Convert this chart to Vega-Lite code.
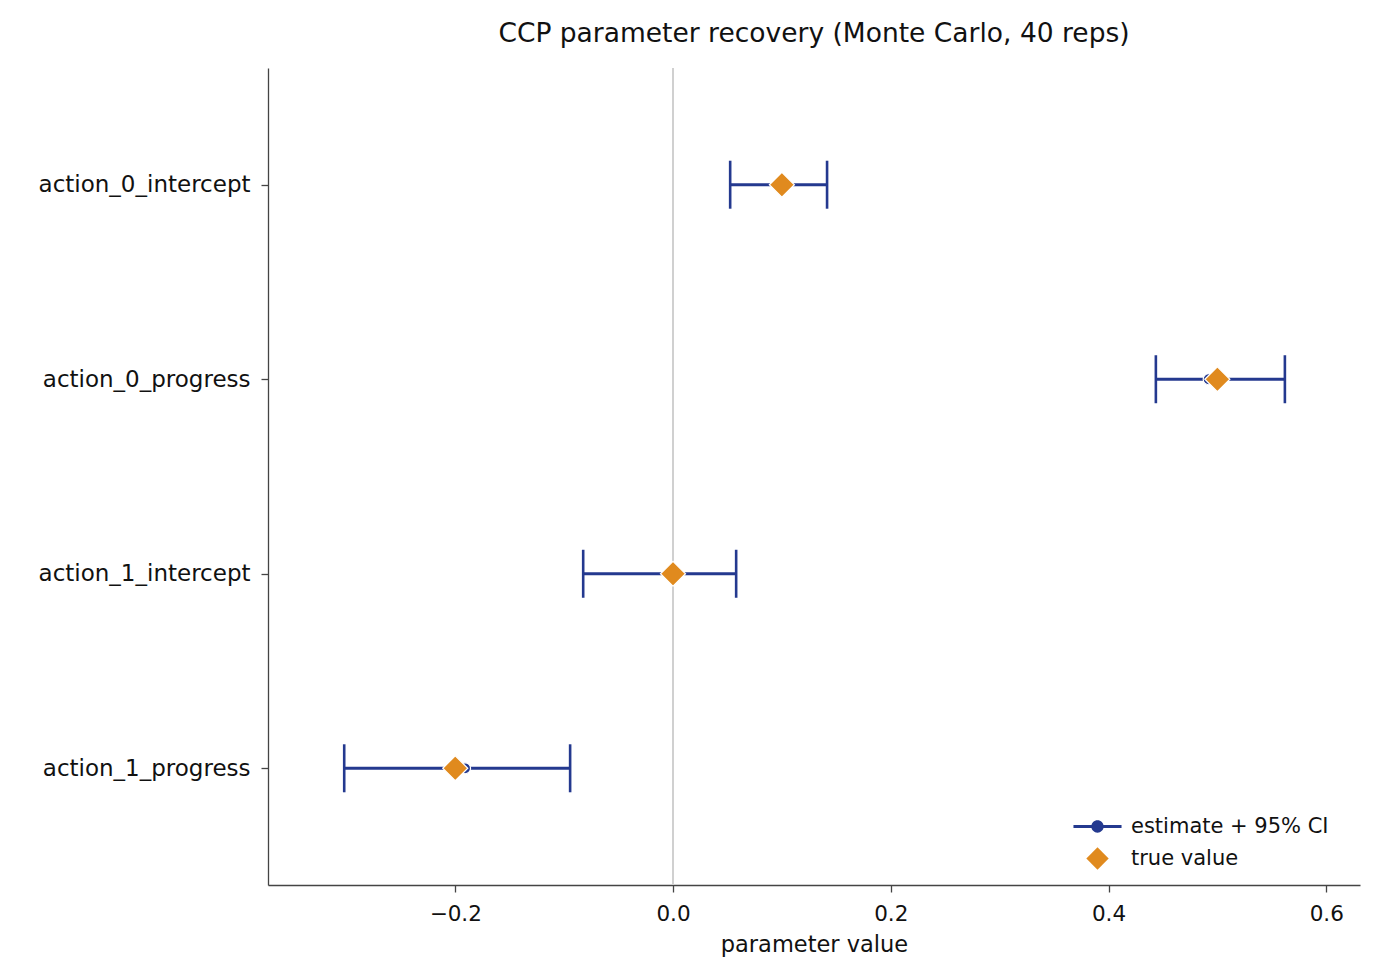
{
  "$schema": "https://vega.github.io/schema/vega-lite/v6.json",
  "width": 1092,
  "height": 817,
  "autosize": {"type": "none"},
  "padding": {"left": 268, "top": 68, "right": 20, "bottom": 94},
  "background": "white",
  "config": {
    "view": {"stroke": null},
    "font": "DejaVu Sans",
    "axis": {"grid": false, "domainColor": "#444444", "tickColor": "#444444", "labelColor": "#111111", "titleColor": "#111111", "titleFontWeight": "normal", "domainWidth": 1.3, "tickWidth": 1.3, "tickSize": 7}
  },
  "title": {"text": "CCP parameter recovery (Monte Carlo, 40 reps)", "fontSize": 26.5, "fontWeight": "normal", "color": "#111111", "offset": 20, "anchor": "middle"},
  "data": {
    "values": [
      {"param": "action_0_intercept", "est": 0.097, "lo": 0.0525, "hi": 0.1415, "truth": 0.1},
      {"param": "action_0_progress", "est": 0.492, "lo": 0.4435, "hi": 0.562, "truth": 0.5},
      {"param": "action_1_intercept", "est": -0.003, "lo": -0.0825, "hi": 0.058, "truth": 0.0},
      {"param": "action_1_progress", "est": -0.191, "lo": -0.302, "hi": -0.0945, "truth": -0.2}
    ]
  },
  "encoding": {
    "y": {
      "field": "param", "type": "nominal",
      "scale": {"type": "point", "padding": 0.6},
      "sort": ["action_0_intercept", "action_0_progress", "action_1_intercept", "action_1_progress"],
      "axis": {"title": null, "labelFontSize": 23, "labelPadding": 11, "labelLimit": 0}
    }
  },
  "layer": [
    {
      "mark": {"type": "rule", "color": "#d0d0d0", "strokeWidth": 1.8},
      "encoding": {"x": {"datum": 0}, "y": null}
    },
    {
      "mark": {"type": "rule", "color": "#24398f", "strokeWidth": 3},
      "encoding": {
        "x": {
          "field": "lo", "type": "quantitative",
          "scale": {"domain": [-0.372, 0.631], "nice": false, "zero": false},
          "axis": {"title": "parameter value", "titleFontSize": 22.5, "titlePadding": 9, "labelFontSize": 21.5, "labelPadding": 11, "values": [-0.2, 0, 0.2, 0.4, 0.6], "format": ".1f"}
        },
        "x2": {"field": "hi"}
      }
    },
    {
      "mark": {"type": "tick", "color": "#24398f", "thickness": 2.6, "size": 48, "orient": "vertical", "opacity": 1},
      "encoding": {"x": {"field": "lo", "type": "quantitative"}}
    },
    {
      "mark": {"type": "tick", "color": "#24398f", "thickness": 2.6, "size": 48, "orient": "vertical", "opacity": 1},
      "encoding": {"x": {"field": "hi", "type": "quantitative"}}
    },
    {
      "mark": {"type": "point", "shape": "circle", "filled": true, "size": 121, "stroke": "white", "strokeWidth": 1.2, "opacity": 1},
      "encoding": {
        "x": {"field": "est", "type": "quantitative"},
        "color": {
          "datum": "estimate + 95% CI",
          "scale": {"domain": ["estimate + 95% CI", "true value"], "range": ["#24398f", "#e08a1e"]},
          "legend": {
            "title": null,
            "orient": "none",
            "legendX": 814,
            "legendY": 743,
            "labelFontSize": 21,
            "labelColor": "#111111",
            "labelOffset": 22,
            "labelLimit": 0,
            "symbolSize": 500,
            "symbolStrokeWidth": 0,
            "rowPadding": 10,
            "padding": 4
          }
        }
      }
    },
    {
      "mark": {"type": "point", "filled": true, "size": 625, "stroke": "white", "strokeWidth": 1.2, "opacity": 1},
      "encoding": {
        "x": {"field": "truth", "type": "quantitative"},
        "color": {"datum": "true value"},
        "shape": {
          "datum": "true value",
          "scale": {"domain": ["estimate + 95% CI", "true value"], "range": ["M-2.15,-0.14H2.15V0.14H-2.15ZM0.55,0A0.55,0.55,0,1,1,-0.55,0A0.55,0.55,0,1,1,0.55,0Z", "diamond"]}
        }
      }
    }
  ]
}
